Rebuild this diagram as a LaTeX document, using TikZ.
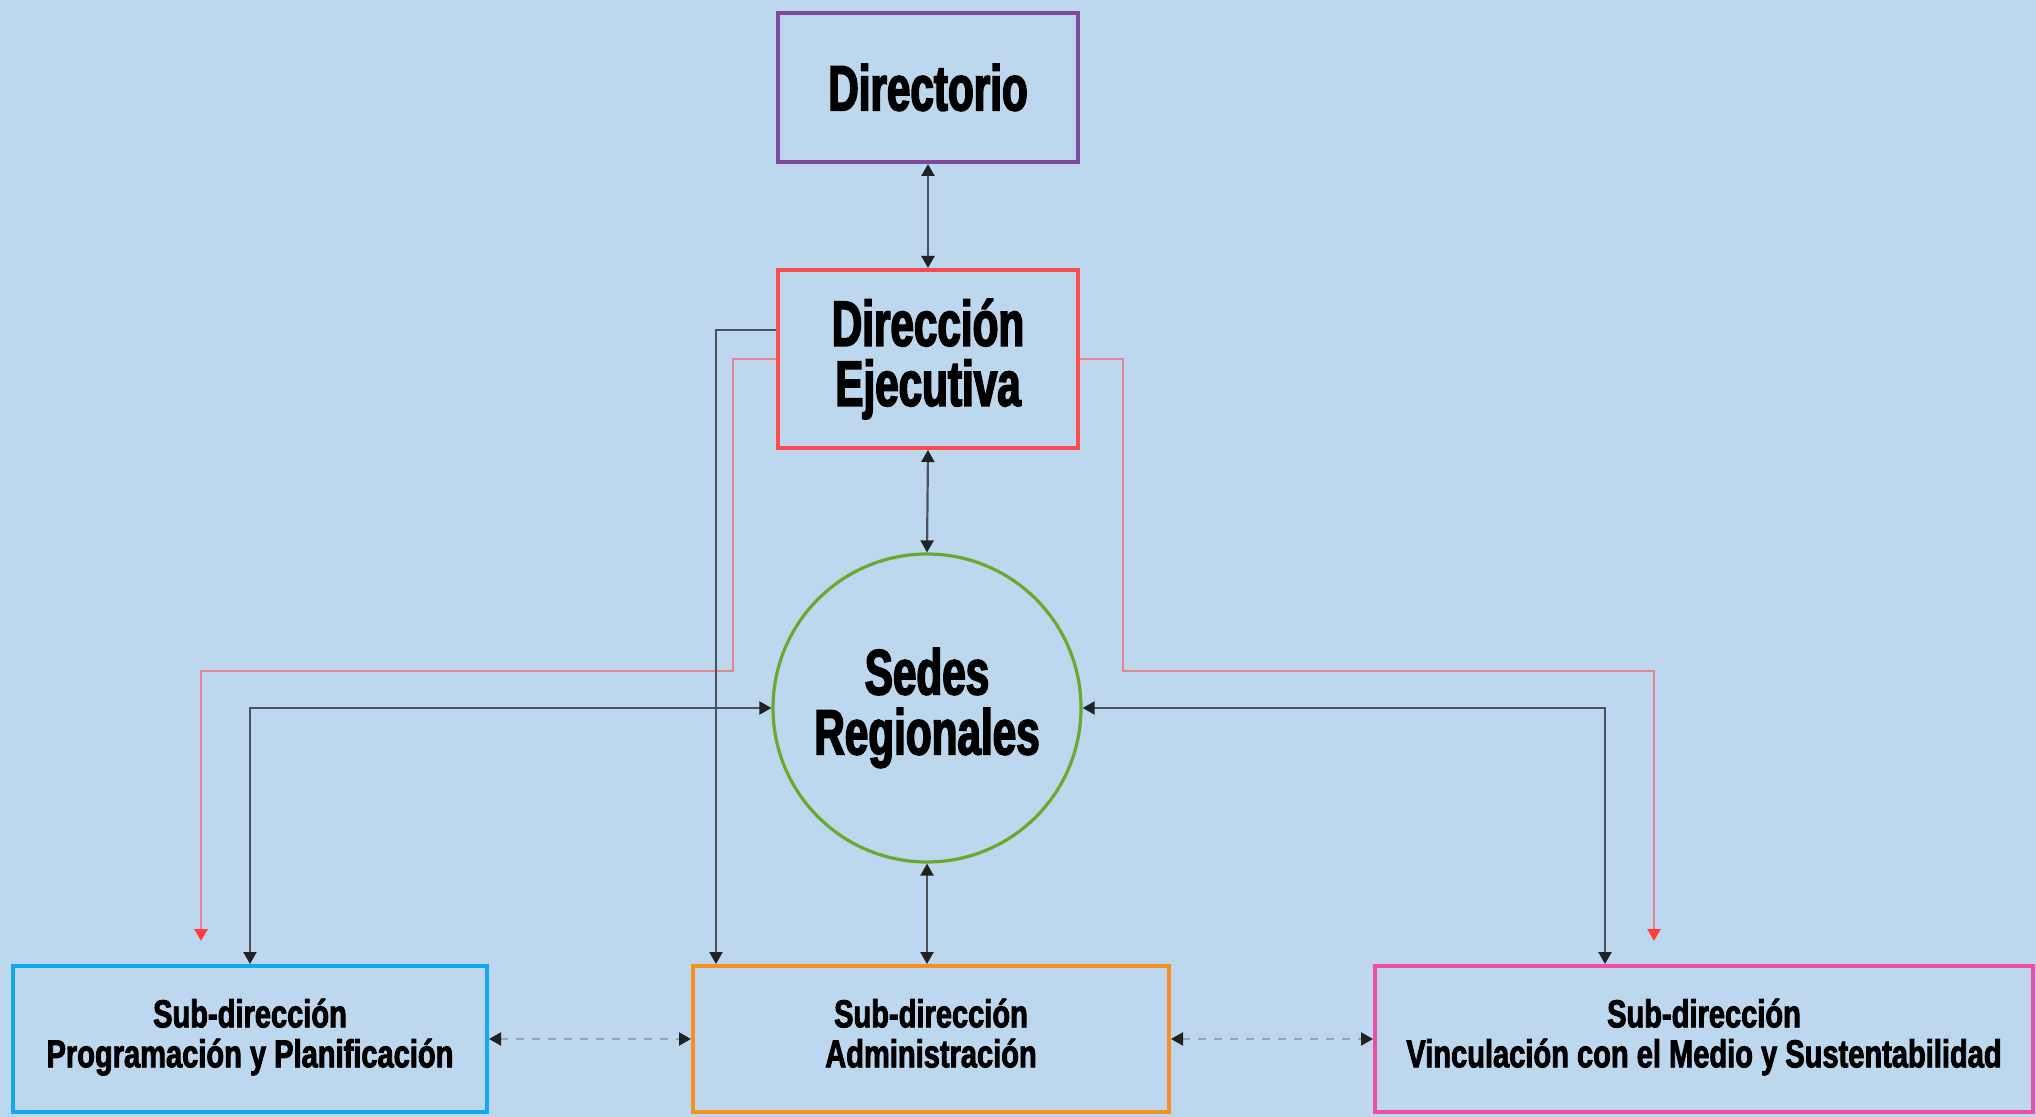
\documentclass[tikz,border=0pt]{standalone}
\usepackage{fontspec}
\usetikzlibrary{arrows.meta,calc}
\newfontfamily\antonbig[FakeStretch=0.66,FakeBold=2.5]{Liberation Sans}
\newfontfamily\antonsmall[FakeStretch=0.745,FakeBold=2.2]{Liberation Sans}
\definecolor{bg}{HTML}{BDD7EE}
\definecolor{cdir}{HTML}{7F4A9C}
\definecolor{cde}{HTML}{FF4B4B}
\definecolor{csed}{HTML}{69AA2E}
\definecolor{cleft}{HTML}{14A8F2}
\definecolor{cmid}{HTML}{F7901E}
\definecolor{cright}{HTML}{F24CA6}
\definecolor{cline}{HTML}{4C525C}
\definecolor{ctip}{HTML}{222222}
\definecolor{credl}{HTML}{E8868F}
\definecolor{credt}{HTML}{FF3F3F}
\definecolor{cdash}{HTML}{97A4B2}
\tikzset{
  box/.style={draw, line width=2pt, align=center, inner sep=0pt, text=black},
  bigtxt/.style={font=\antonbig\bfseries\fontsize{32}{31}\selectfont},
  smalltxt/.style={font=\antonsmall\bfseries\fontsize{19.5}{20}\selectfont},
  conn/.style={draw=cline, line width=1.1pt},
  bidir/.style={conn, {Triangle[width=6.5pt,length=6pt,fill=ctip,color=ctip]}-{Triangle[width=6.5pt,length=6pt,fill=ctip,color=ctip]}},
  todown/.style={conn, -{Triangle[width=6.5pt,length=6pt,fill=ctip,color=ctip]}},
  redline/.style={draw=credl, line width=1.3pt, -{Triangle[width=6.5pt,length=6pt,fill=credt,color=credt]}},
  dashline/.style={draw=cdash, line width=1.1pt, dash pattern=on 4pt off 4pt, {Triangle[width=6.5pt,length=6pt,fill=ctip,color=ctip]}-{Triangle[width=6.5pt,length=6pt,fill=ctip,color=ctip]}}
}
\begin{document}
\begin{tikzpicture}[x=0.5pt,y=-0.5pt]
\fill[bg] (0,0) rectangle (2036,1117);
\useasboundingbox (0,0) rectangle (2036,1117);

\node[box, bigtxt, draw=cdir, minimum width=150pt, minimum height=74.5pt] (dir) at (928,87.5) {Directorio};
\node[box, bigtxt, draw=cde, minimum width=150pt, minimum height=89pt] (de) at (928,359) {Dirección\\[-1pt]Ejecutiva};
\node[box, bigtxt, draw=csed, line width=1.6pt, circle, minimum size=154pt] (sedes) at (927,708) {Sedes\\[-1pt]Regionales};
\node[box, smalltxt, draw=cleft, minimum width=237pt, minimum height=73pt] (left) at (250,1039) {Sub-dirección\\Programación y Planificación\strut};
\node[box, smalltxt, draw=cmid, minimum width=238pt, minimum height=73pt] (mid) at (931,1039) {Sub-dirección\\Administración\strut};
\node[box, smalltxt, draw=cright, minimum width=329pt, minimum height=73pt] (right) at (1704,1039) {Sub-dirección\\Vinculación con el Medio y Sustentabilidad\strut};

\coordinate (rl) at (201,941);
\coordinate (rr) at (1654,941);

% vertical spine
\draw[bidir] (dir.south) -- (de.north);
\draw[bidir] (de.south) -- (sedes.north);
\draw[bidir] (sedes.south) -- (sedes.south |- mid.north);

% red connectors
\draw[redline] (de.west) -| (733,671) -| (rl);
\draw[redline] (de.east) -| (1123,671) -| (rr);

% black DE -> administracion
\draw[todown] ([yshift=14.5pt]de.west) -| ($(mid.north west)+(25,0)$);

% sedes <-> side boxes
\draw[bidir] (sedes.west) -| (left.north);
\draw[bidir] (sedes.east) -| ($(right.north west)+(232,0)$);

% dashed links
\draw[dashline] (left.east) -- (mid.west);
\draw[dashline] (mid.east) -- (right.west);
\end{tikzpicture}
\end{document}
